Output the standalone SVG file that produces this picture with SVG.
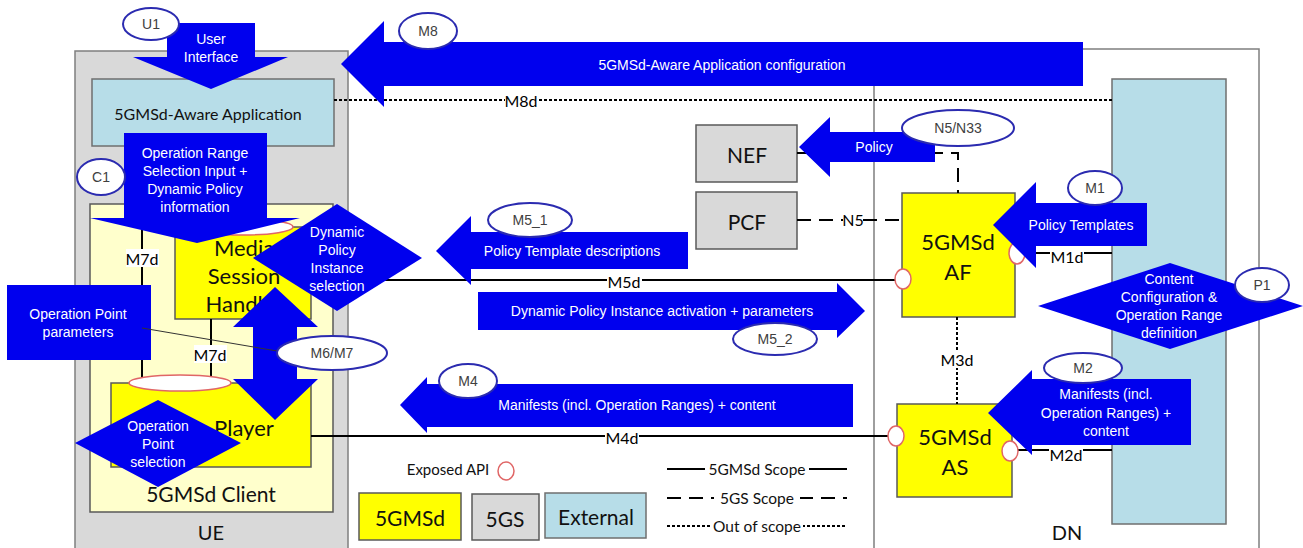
<svg xmlns="http://www.w3.org/2000/svg" width="1303" height="548" viewBox="0 0 1303 548">
<style>
.bg{fill:#fff}
.zone{fill:#d9d9d9;stroke:#7f7f7f;stroke-width:1.5}
.dn{fill:#fff;stroke:#7f7f7f;stroke-width:1.5}
.ext{fill:#b7dde8;stroke:#6f6f6f;stroke-width:1.5}
.client{fill:#ffffcc;stroke:#595959;stroke-width:1.5}
.ms{fill:#ffff00;stroke:#595959;stroke-width:1.5}
.gs{fill:#d9d9d9;stroke:#595959;stroke-width:1.5}
.arrow{fill:#0000ee}
.ell{fill:#fff;stroke:#2b2bb0;stroke-width:2}
.api{fill:#fff;stroke:#e06666;stroke-width:1.5}
.solid{stroke:#000;stroke-width:2;fill:none}
.dash{stroke:#000;stroke-width:2;fill:none;stroke-dasharray:14 8}
.dot{stroke:#000;stroke-width:2;fill:none;stroke-dasharray:3 2}
.lb{fill:#fff}
.wt{font-family:"Liberation Sans",Arial,sans-serif;font-size:14px;fill:#fff;text-anchor:middle;dominant-baseline:central}
.et{font-family:"Liberation Sans",Arial,sans-serif;font-size:14px;fill:#404040;text-anchor:middle;dominant-baseline:central}
.nt{font-family:Lato,"Liberation Sans",sans-serif;fill:#111;text-anchor:middle;dominant-baseline:central}
.it{font-family:Lato,"Liberation Sans",sans-serif;font-size:16px;fill:#000;text-anchor:middle;dominant-baseline:central}
</style>
<rect class="bg" x="0" y="0" width="1303" height="548"/>

<g id="ue">
<rect class="zone" x="75" y="51" width="273" height="510"/>
<text class="nt" x="211" y="532" font-size="20">UE</text>
</g>
<g id="dn">
<rect class="dn" x="874" y="49" width="385" height="512"/>
<text class="nt" x="1067" y="532" font-size="20">DN</text>
</g>
<g id="external">
<rect class="ext" x="1112" y="79" width="114" height="445"/>
</g>
<g id="aware-app">
<rect class="ext" x="92" y="79" width="242" height="67"/>
<text class="nt" x="208" y="113" font-size="16">5GMSd-Aware Application</text>
</g>
<g id="client">
<rect class="client" x="90" y="204" width="243" height="308"/>
<text class="nt" x="211" y="493" font-size="21">5GMSd Client</text>
</g>
<g id="msh">
<rect class="ms" x="175" y="227" width="136" height="92"/>
<text class="nt" x="244" y="247" font-size="22">Media</text>
<text class="nt" x="244" y="275" font-size="22">Session</text>
<text class="nt" x="244" y="303" font-size="22">Handler</text>
</g>
<g id="player">
<rect class="ms" x="111" y="383" width="200" height="84"/>
<text class="nt" x="211" y="427" font-size="22">Media Player</text>
</g>
<g id="nef">
<rect class="gs" x="696" y="125" width="101" height="57"/>
<text class="nt" x="747" y="154" font-size="21">NEF</text>
</g>
<g id="pcf">
<rect class="gs" x="696" y="192" width="101" height="57"/>
<text class="nt" x="747" y="221" font-size="21">PCF</text>
</g>
<g id="af">
<rect class="ms" x="902" y="193" width="113" height="124"/>
<text class="nt" x="958" y="241" font-size="22">5GMSd</text>
<text class="nt" x="958" y="271" font-size="22">AF</text>
</g>
<g id="as">
<rect class="ms" x="897" y="404" width="115" height="93"/>
<text class="nt" x="955" y="436" font-size="22">5GMSd</text>
<text class="nt" x="955" y="466" font-size="22">AS</text>
</g>

<g id="connectors">
<path class="dot" d="M334,100 H1112"/>
<rect class="lb" x="505" y="92" width="33" height="16"/>
<text class="it" x="521" y="100">M8d</text>
<path class="solid" d="M142,204 V383"/>
<rect class="lb" x="126" y="249" width="33" height="18"/>
<text class="it" x="142" y="258">M7d</text>
<path class="solid" d="M211,319 V383"/>
<rect class="lb" x="194" y="345" width="33" height="18"/>
<text class="it" x="210" y="354">M7d</text>
<path class="solid" d="M311,280 H896"/>
<rect class="lb" x="607" y="272" width="35" height="17"/>
<text class="it" x="624" y="281">M5d</text>
<path class="solid" d="M311,436 H888"/>
<rect class="lb" x="605" y="428" width="34" height="17"/>
<text class="it" x="622" y="437">M4d</text>
<path class="dash" d="M797,220 H902"/>
<rect class="lb" x="843" y="212" width="20" height="16"/>
<text class="it" x="853" y="219" font-size="14">N5</text>
<path class="dash" d="M797,153 H958 V193"/>
<path class="solid" d="M1025,253 H1112"/>
<rect class="lb" x="1050" y="247" width="34" height="17"/>
<text class="it" x="1067" y="256">M1d</text>
<path class="solid" d="M1018,450 H1112"/>
<rect class="lb" x="1049" y="445" width="34" height="17"/>
<text class="it" x="1066" y="454">M2d</text>
<path class="dot" d="M957,317 V404"/>
<rect class="lb" x="940" y="350" width="34" height="18"/>
<text class="it" x="957" y="359">M3d</text>
</g>

<g id="api-ellipses">
<ellipse class="api" cx="243" cy="227" rx="50" ry="8"/>
<ellipse class="api" cx="180" cy="383" rx="51" ry="8"/>
<ellipse class="api" cx="903" cy="279" rx="8" ry="10"/>
<ellipse class="api" cx="1017" cy="253" rx="8" ry="11"/>
<ellipse class="api" cx="896" cy="436" rx="8" ry="10"/>
<ellipse class="api" cx="1010" cy="451" rx="8" ry="10"/>
</g>

<g id="m8">
<polygon class="arrow" points="341,64 384,21 384,42 1083,42 1083,86 384,86 384,107"/>
<text class="wt" x="722" y="65">5GMSd-Aware Application configuration</text>
<ellipse class="ell" cx="428" cy="31" rx="29" ry="18"/>
<text class="et" x="428" y="31">M8</text>
</g>
<g id="u1">
<polygon class="arrow" points="167,23 255,23 255,57 288,57 211,89 133,57 167,57"/>
<text class="wt" x="211" y="39">User</text>
<text class="wt" x="211" y="57">Interface</text>
<ellipse class="ell" cx="151" cy="24" rx="28" ry="16"/>
<text class="et" x="151" y="24">U1</text>
</g>
<g id="c1">
<polygon class="arrow" points="124,133 267,133 267,218 300,218 197,243 90,218 124,218"/>
<text class="wt" x="195" y="153">Operation Range</text>
<text class="wt" x="195" y="171">Selection Input +</text>
<text class="wt" x="195" y="189">Dynamic Policy</text>
<text class="wt" x="195" y="207">information</text>
<ellipse class="ell" cx="101" cy="177" rx="24" ry="18"/>
<text class="et" x="101" y="177">C1</text>
</g>
<g id="dpi-selection">
<polygon class="arrow" points="253,258 337,204 422,258 337,311"/>
<text class="wt" x="337" y="232">Dynamic</text>
<text class="wt" x="337" y="250">Policy</text>
<text class="wt" x="337" y="268">Instance</text>
<text class="wt" x="337" y="286">selection</text>
</g>
<g id="m6m7">
<polygon class="arrow" points="275,287 318,327 297,327 297,379 318,379 275,420 233,379 253,379 253,327 233,327"/>
</g>
<g id="op-params">
<rect class="arrow" x="7" y="285" width="144" height="75"/>
<text class="wt" x="78" y="314">Operation Point</text>
<text class="wt" x="78" y="332">parameters</text>
<path d="M142,328 L277,351" stroke="#333" stroke-width="1" fill="none"/>
<ellipse class="ell" cx="332" cy="353" rx="55" ry="17"/>
<text class="et" x="332" y="353">M6/M7</text>
</g>
<g id="op-selection">
<polygon class="arrow" points="75,443 158,400 241,443 158,487"/>
<text class="wt" x="158" y="426">Operation</text>
<text class="wt" x="158" y="444">Point</text>
<text class="wt" x="158" y="462">selection</text>
</g>
<g id="m5-1">
<polygon class="arrow" points="436,251 471,216 471,232 688,232 688,269 471,269 471,285"/>
<text class="wt" x="572" y="251">Policy Template descriptions</text>
<ellipse class="ell" cx="530" cy="220" rx="42" ry="17"/>
<text class="et" x="530" y="220">M5_1</text>
</g>
<g id="m5-2">
<polygon class="arrow" points="478,292 837,292 837,283 865,311 837,338 837,330 478,330"/>
<text class="wt" x="662" y="311">Dynamic Policy Instance activation + parameters</text>
<ellipse class="ell" cx="775" cy="339" rx="42" ry="16"/>
<text class="et" x="775" y="339">M5_2</text>
</g>
<g id="n5-policy">
<polygon class="arrow" points="799,147 830,117 830,132 935,132 935,162 830,162 830,177"/>
<text class="wt" x="874" y="147">Policy</text>
<ellipse class="ell" cx="958" cy="128" rx="56" ry="18"/>
<text class="et" x="958" y="128">N5/N33</text>
</g>
<g id="m1">
<polygon class="arrow" points="993,225 1036,182 1036,203 1147,203 1147,246 1036,246 1036,268"/>
<text class="wt" x="1081" y="225">Policy Templates</text>
<ellipse class="ell" cx="1095" cy="188" rx="27" ry="17"/>
<text class="et" x="1095" y="188">M1</text>
</g>
<g id="p1">
<polygon class="arrow" points="1038,306 1170,263 1303,306 1170,349"/>
<text class="wt" x="1169" y="279">Content</text>
<text class="wt" x="1169" y="297">Configuration &amp;</text>
<text class="wt" x="1169" y="315">Operation Range</text>
<text class="wt" x="1169" y="333">definition</text>
<ellipse class="ell" cx="1262" cy="285" rx="27" ry="17"/>
<text class="et" x="1262" y="285">P1</text>
</g>
<g id="m2">
<polygon class="arrow" points="988,413 1032,370 1032,379 1191,379 1191,445 1032,445 1032,455"/>
<text class="wt" x="1106" y="394">Manifests (incl.</text>
<text class="wt" x="1106" y="413">Operation Ranges) +</text>
<text class="wt" x="1106" y="431">content</text>
<ellipse class="ell" cx="1083" cy="368" rx="39" ry="15"/>
<text class="et" x="1083" y="368">M2</text>
</g>
<g id="m4">
<polygon class="arrow" points="400,405 427,377 427,384 853,384 853,427 427,427 427,433"/>
<text class="wt" x="637" y="405">Manifests (incl. Operation Ranges) + content</text>
<ellipse class="ell" cx="468" cy="381" rx="29" ry="17"/>
<text class="et" x="468" y="381">M4</text>
</g>

<g id="legend">
<text class="nt" x="448" y="469" font-size="15">Exposed API</text>
<ellipse class="api" cx="506" cy="471" rx="8" ry="9"/>
<rect class="ms" x="359" y="493" width="102" height="47"/>
<text class="nt" x="410" y="517" font-size="21">5GMSd</text>
<rect class="gs" x="472" y="494" width="67" height="46"/>
<text class="nt" x="505" y="518" font-size="21">5GS</text>
<rect class="ext" x="545" y="493" width="101" height="45"/>
<text class="nt" x="596" y="516" font-size="21">External</text>
<path class="solid" d="M667,469 H847"/>
<rect class="lb" x="705" y="460" width="104" height="18"/>
<text class="nt" x="757" y="469" font-size="15.5">5GMSd Scope</text>
<path class="dash" d="M667,498 H847"/>
<rect class="lb" x="714" y="489" width="86" height="18"/>
<text class="nt" x="757" y="498" font-size="15.5">5GS Scope</text>
<path class="dot" d="M667,526 H847"/>
<rect class="lb" x="711" y="517" width="92" height="18"/>
<text class="nt" x="757" y="526" font-size="15.5">Out of scope</text>
</g>
</svg>
